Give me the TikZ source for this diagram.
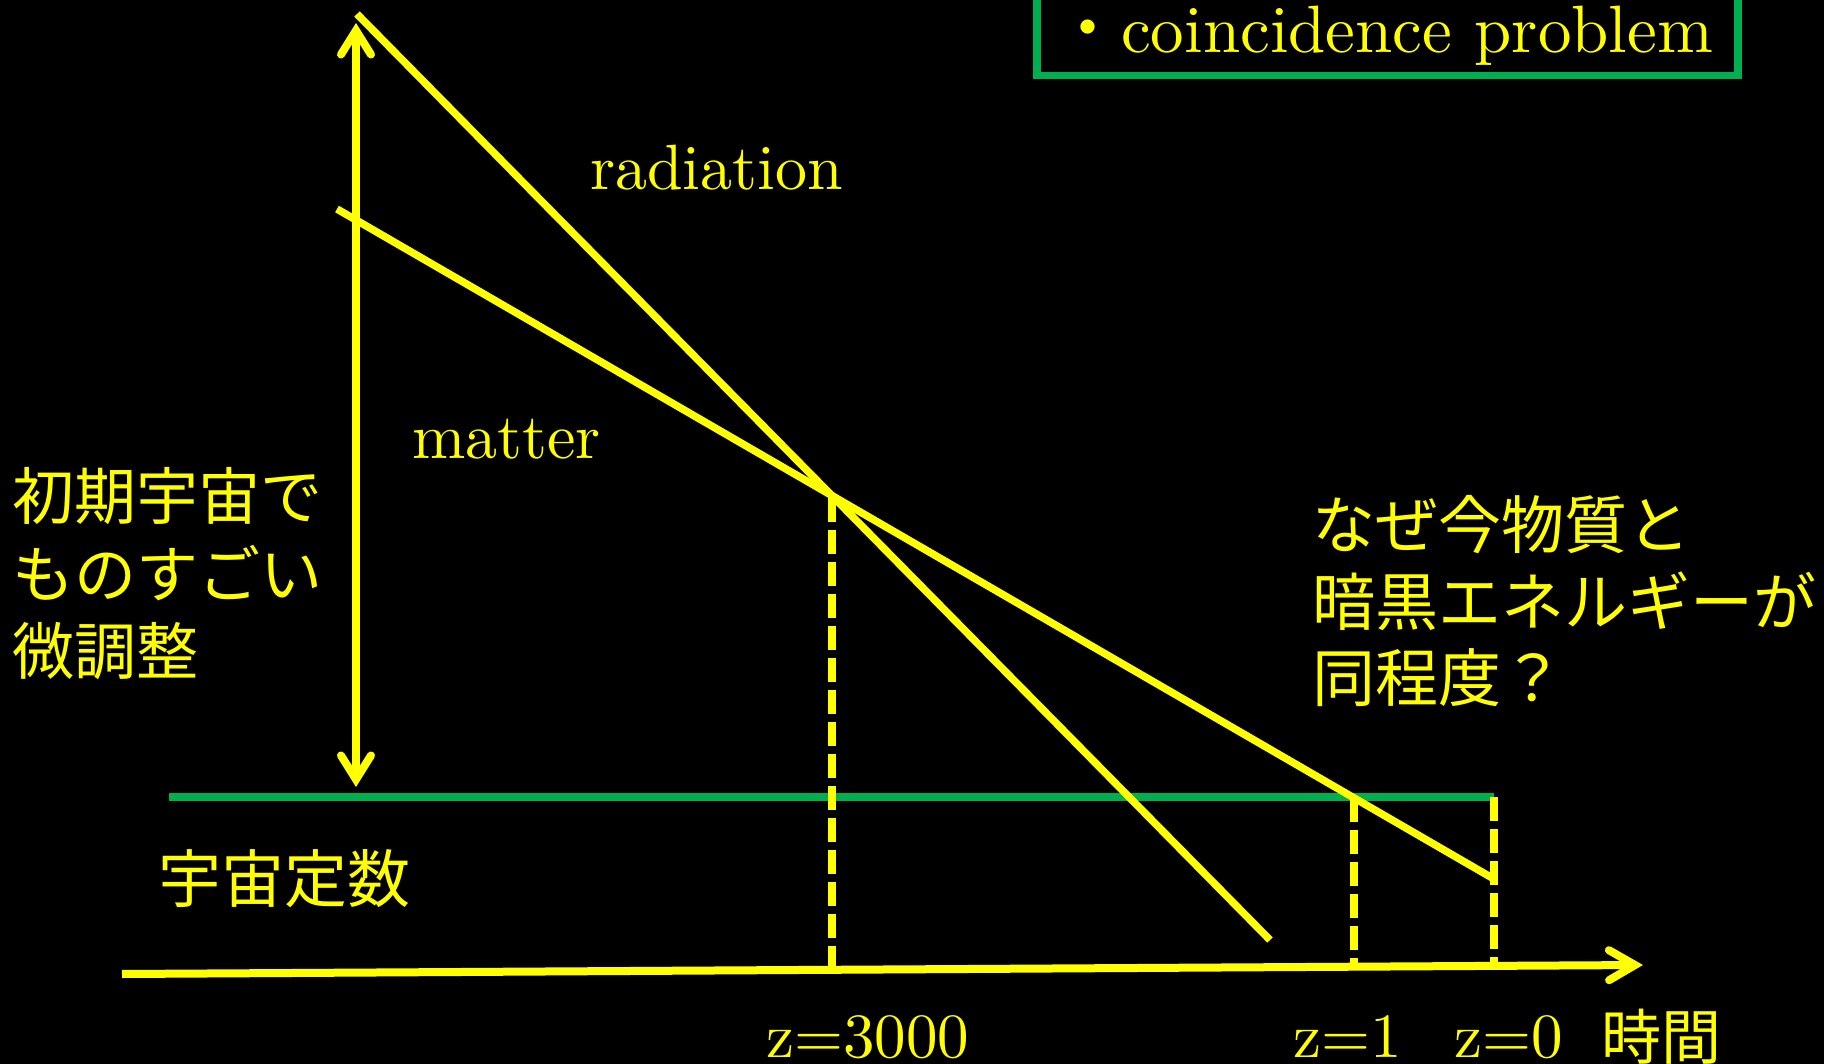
\documentclass[tikz,border=0pt]{standalone}
\usepackage{fontspec}
\newfontfamily\jp{Noto Sans CJK JP}
\newfontfamily\lmten{lmroman10-regular.otf}
\usetikzlibrary{arrows.meta}
\definecolor{ylw}{RGB}{255,255,0}
\definecolor{grn}{RGB}{0,176,80}
\begin{document}
\begin{tikzpicture}[x=1pt,y=-1pt,
  curveline/.style={draw=ylw, line width=7.5pt},
  guide/.style={draw=ylw, line width=8pt, dash pattern=on 24pt off 8pt},
  latin/.style={text=ylw, inner sep=0pt, anchor=base west, font=\lmten\fontsize{64}{77}\selectfont},
  jptext/.style={text=ylw, inner sep=0pt, anchor=base west, font=\jp\fontsize{62}{78}\selectfont},
  zlabel/.style={text=ylw, inner sep=0pt, anchor=base west, font=\lmten\fontsize{63}{76}\selectfont}]
\fill[black] (0,0) rectangle (1824,1064);
\useasboundingbox (0,0) rectangle (1824,1064);

% coordinates
\coordinate (rt) at (357,14);
\coordinate (re) at (1270,940);
\coordinate (mt) at (337,209);
\coordinate (me) at (1494,879);
\coordinate (vt) at (356,23);
\coordinate (vb) at (356,787);
\coordinate (gl) at (169,797);
\coordinate (gr) at (1494,797);
\coordinate (al) at (122,974);
\coordinate (ar) at (1643,965);
\coordinate (d1t) at (832,498);
\coordinate (d1b) at (832,970);
\coordinate (d2t) at (1354,798);
\coordinate (d2b) at (1354,967);
\coordinate (d3t) at (1494,797);
\coordinate (d3b) at (1494,966);

% cosmological constant line
\draw[grn, line width=7.5pt] (gl) -- (gr);

% guides
\draw[guide] (d1t) -- (d1b);
\draw[guide] (d2t) -- (d2b);
\draw[guide] (d3t) -- (d3b);

% curves
\draw[curveline] (rt) -- (re);
\draw[curveline] (mt) -- (me);

% arrows
\draw[draw=ylw, line width=8pt, {Straight Barb[length=24pt, width=30pt, line cap=round]}-{Straight Barb[length=24pt, width=30pt, line cap=round]}] (vb) -- (vt);
\draw[draw=ylw, line width=8pt, -{Straight Barb[length=26pt, width=30pt, line cap=round]}] (al) -- (ar);

% box
\draw[grn, line width=7.5pt] (1037,-20) rectangle (1738,75.5);
\node[latin, font=\lmten\fontsize{67}{78}\selectfont] (coin) at (1054,53) {{\jp\fontsize{67}{78}\selectfont ・}coincidence problem};

% labels
\node[latin] (rad) at (590,190) {radiation};
\node[latin] (mat) at (412,459) {matter};

\node[jptext] (l1) at (12,519) {初期宇宙で};
\node[jptext] (l2) at (12,597) {ものすごい};
\node[jptext] (l3) at (12,674) {微調整};

\node[jptext, font=\jp\fontsize{63}{78}\selectfont] (r1) at (1312,548) {なぜ今物質と};
\node[jptext, font=\jp\fontsize{63}{78}\selectfont] (r2) at (1312,625) {暗黒エネルギーが};
\node[jptext, font=\jp\fontsize{63}{78}\selectfont] (r3) at (1312,701) {同程度？};

\node[jptext, font=\jp\fontsize{63}{78}\selectfont] (cc) at (158,902) {宇宙定数};

\node[zlabel] (z3000) at (766,1057) {z=3000};
\node[zlabel] (z1) at (1293,1057) {z=1};
\node[zlabel] (z0) at (1454,1057) {z=0};
\node[jptext, font=\jp\fontsize{60}{70}\selectfont] (time) at (1601,1059) {時間};
\end{tikzpicture}
\end{document}
